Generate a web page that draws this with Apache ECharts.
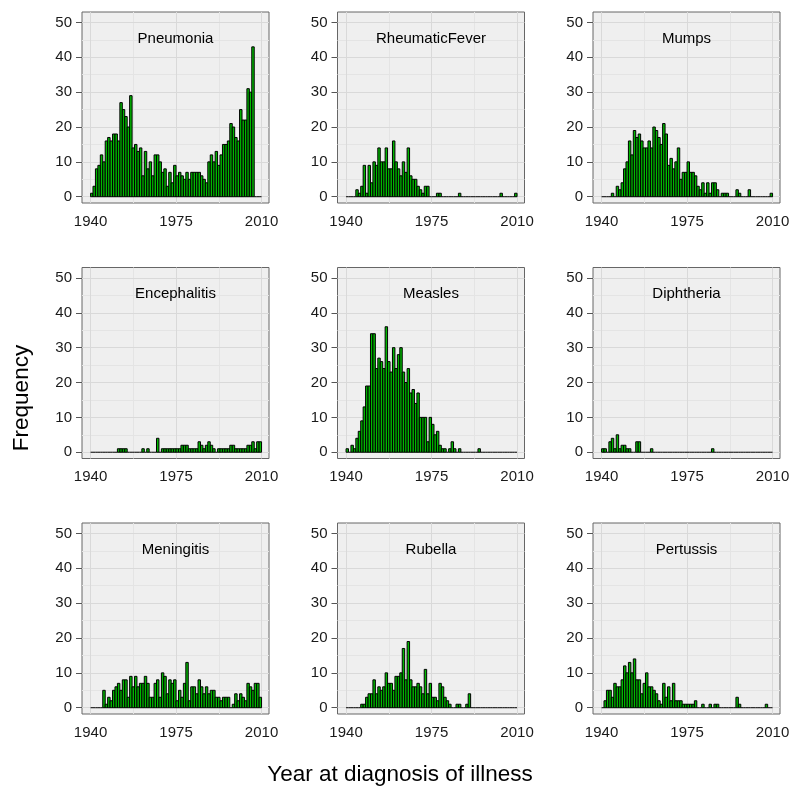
<!DOCTYPE html>
<html><head><meta charset="utf-8">
<script src="https://cdn.jsdelivr.net/npm/echarts@6/dist/echarts.min.js"></script>
<style>html,body{margin:0;padding:0;background:#fff}#chart{width:800px;height:793px}</style>
</head><body><div id="chart"></div>
<script>
// Histogram bins: [year, year+1)
const years = [
  1940,1941,1942,1943,1944,1945,1946,1947,1948,1949,
  1950,1951,1952,1953,1954,1955,1956,1957,1958,1959,
  1960,1961,1962,1963,1964,1965,1966,1967,1968,1969,
  1970,1971,1972,1973,1974,1975,1976,1977,1978,1979,
  1980,1981,1982,1983,1984,1985,1986,1987,1988,1989,
  1990,1991,1992,1993,1994,1995,1996,1997,1998,1999,
  2000,2001,2002,2003,2004,2005,2006,2007,2008,2009
];
const binWidth = 1;

const pneumonia = [
  1,3,8,9,12,10,16,17,16,18,
  18,16,27,25,23,20,29,14,15,13,
  14,6,13,8,10,6,12,12,10,7,
  8,3,7,4,9,6,7,6,5,7,
  5,7,7,7,7,6,5,4,10,12,
  10,13,9,12,15,15,16,21,20,17,
  16,25,22,22,31,30,43,0,0,0
];
const rheumaticFever = [
  0,0,0,0,2,1,3,9,1,9,
  4,10,9,14,10,10,14,8,8,16,
  10,8,6,10,7,14,6,5,5,3,
  2,1,3,3,0,0,0,1,1,0,
  0,0,0,0,0,0,1,0,0,0,
  0,0,0,0,0,0,0,0,0,0,
  0,0,0,1,0,0,0,0,0,1
];
const mumps = [
  0,0,0,0,1,0,3,2,4,8,
  10,16,12,19,17,18,16,14,14,16,
  14,20,19,17,15,21,18,9,11,8,
  10,14,5,7,7,10,7,7,6,3,
  2,4,1,4,1,4,4,2,0,1,
  1,1,0,0,0,2,1,0,0,0,
  2,0,0,0,0,0,0,0,0,1
];
const encephalitis = [
  0,0,0,0,0,0,0,0,0,0,
  0,1,1,1,1,0,0,0,0,0,
  0,1,0,1,0,0,0,4,0,1,
  1,1,1,1,1,1,1,2,2,2,
  1,1,1,1,3,2,1,2,3,2,
  1,0,1,1,1,1,1,2,2,1,
  1,1,1,1,2,2,3,1,3,3
];
const measles = [
  1,0,2,1,4,6,9,13,19,19,
  34,34,24,27,26,24,36,26,23,30,
  24,28,30,23,20,24,17,18,14,17,
  10,10,10,3,10,8,5,6,2,1,
  1,0,1,3,1,0,1,0,0,0,
  0,0,0,0,1,0,0,0,0,0,
  0,0,0,0,0,0,0,0,0,0
];
const diphtheria = [
  1,1,0,3,4,1,5,1,2,2,
  1,1,0,0,3,3,0,0,0,0,
  1,0,0,0,0,0,0,0,0,0,
  0,0,0,0,0,0,0,0,0,0,
  0,0,0,0,0,1,0,0,0,0,
  0,0,0,0,0,0,0,0,0,0,
  0,0,0,0,0,0,0,0,0,0
];
const meningitis = [
  0,0,0,0,0,5,1,3,2,5,
  6,7,5,8,8,3,9,6,9,6,
  7,7,9,7,3,3,7,8,3,10,
  9,4,8,7,8,2,5,3,7,13,
  2,6,6,4,8,6,4,6,4,5,
  5,3,3,2,3,3,3,0,1,4,
  2,4,3,2,7,6,5,7,7,3
];
const rubella = [
  0,0,0,0,0,0,1,1,3,4,
  4,8,4,6,5,6,10,7,7,5,
  9,9,10,17,8,19,8,6,6,7,
  6,4,11,4,7,3,3,2,7,6,
  3,2,1,0,0,1,1,0,0,1,
  4,0,0,0,0,0,0,0,0,0,
  0,0,0,0,0,0,0,0,0,0
];
const pertussis = [
  0,2,5,5,3,7,6,6,8,12,
  10,13,10,14,8,8,4,7,10,6,
  6,5,4,2,1,7,3,6,2,7,
  2,2,2,1,1,1,1,1,2,0,
  0,1,0,0,1,0,1,1,0,0,
  0,0,0,0,0,3,1,0,0,0,
  0,0,0,0,0,0,0,1,0,0
];

const panelNames = ['Pneumonia','RheumaticFever','Mumps','Encephalitis','Measles','Diphtheria','Meningitis','Rubella','Pertussis'];
const panelValues = [pneumonia, rheumaticFever, mumps, encephalitis, measles, diphtheria, meningitis, rubella, pertussis];

const xTicks = [1940, 1975, 2010];
const yTicks = [0, 10, 20, 30, 40, 50];
const xMinor = [1957.5, 1992.5];
const yMinor = [5, 15, 25, 35, 45];
const xTitle = 'Year at diagnosis of illness';
const yTitle = 'Frequency';

const FONT = '"Liberation Sans", Arial, Helvetica, sans-serif';
const L0 = 82, T0 = 12, STEP = 255.5, W = 187, H = 191;
const MAJOR = '#d9d9d9', MINOR = '#e4e4e4';

function renderBar(params, api) {
  const x0 = api.value(0), v = api.value(1);
  const a = api.coord([x0, 0]);
  const b = api.coord([x0 + binWidth, v]);
  if (v === 0) {
    return {type: 'line', shape: {x1: a[0], y1: a[1], x2: b[0], y2: a[1]},
            style: {stroke: '#000', lineWidth: 1}};
  }
  return {type: 'rect',
          shape: {x: a[0], y: b[1], width: b[0] - a[0], height: a[1] - b[1]},
          style: {fill: '#00b800', stroke: '#000', lineWidth: 1}};
}

const grid = [], xAxis = [], yAxis = [], series = [], title = [];
panelNames.forEach((name, i) => {
  const col = i % 3, row = Math.floor(i / 3);
  const left = L0 + col * STEP, top = T0 + row * STEP;
  grid.push({left: left, top: top, width: W, height: H, show: true,
             backgroundColor: '#efefef', borderColor: '#666', borderWidth: 1, containLabel: false});
  xAxis.push({type: 'value', gridIndex: i, min: 1936.5, max: 2013.05,
    axisLine: {show: false}, splitLine: {show: false},
    axisTick: {show: true, length: 6, customValues: xTicks, lineStyle: {color: '#555'}},
    axisLabel: {customValues: xTicks, margin: 11, fontSize: 15, color: '#1a1a1a', fontFamily: FONT,
                formatter: v => String(v)}});
  yAxis.push({type: 'value', gridIndex: i, min: -1.8, max: 53,
    axisLine: {show: false}, splitLine: {show: false},
    axisTick: {show: true, length: 6, customValues: yTicks, lineStyle: {color: '#555'}},
    axisLabel: {customValues: yTicks, margin: 10, fontSize: 15, color: '#1a1a1a', fontFamily: FONT,
                formatter: v => String(v)}});
  series.push({type: 'line', xAxisIndex: i, yAxisIndex: i, data: [], silent: true, z: 1,
    markLine: {silent: true, symbol: 'none', animation: false, label: {show: false},
      data: [].concat(
        yMinor.map(v => ({yAxis: v, lineStyle: {color: MINOR, width: 1, type: 'solid'}})),
        xMinor.map(v => ({xAxis: v, lineStyle: {color: MINOR, width: 1, type: 'solid'}})),
        yTicks.map(v => ({yAxis: v, lineStyle: {color: MAJOR, width: 1, type: 'solid'}})),
        xTicks.map(v => ({xAxis: v, lineStyle: {color: MAJOR, width: 1, type: 'solid'}}))
      )}});
  series.push({type: 'custom', xAxisIndex: i, yAxisIndex: i, z: 5,
    renderItem: renderBar, encode: {x: 0, y: 1},
    data: years.map((yr, k) => [yr, panelValues[i][k]])});
  title.push({text: name, left: left + W / 2, top: top + 19, textAlign: 'center', padding: 0,
    textStyle: {fontSize: 15, fontWeight: 'normal', color: '#000', fontFamily: FONT}});
});

const chart = echarts.init(document.getElementById('chart'), null, {renderer: 'canvas'});
chart.setOption({
  animation: false,
  backgroundColor: '#fff',
  title: title,
  grid: grid, xAxis: xAxis, yAxis: yAxis, series: series,
  graphic: [
    {type: 'text', x: 22, y: 398, rotation: Math.PI / 2,
     style: {text: yTitle, fontSize: 22.5, fill: '#000', fontFamily: FONT, align: 'center', verticalAlign: 'middle'}},
    {type: 'text', x: 400, y: 775,
     style: {text: xTitle, fontSize: 22.5, fill: '#000', fontFamily: FONT, align: 'center', verticalAlign: 'middle'}}
  ]
});
</script></body></html>
